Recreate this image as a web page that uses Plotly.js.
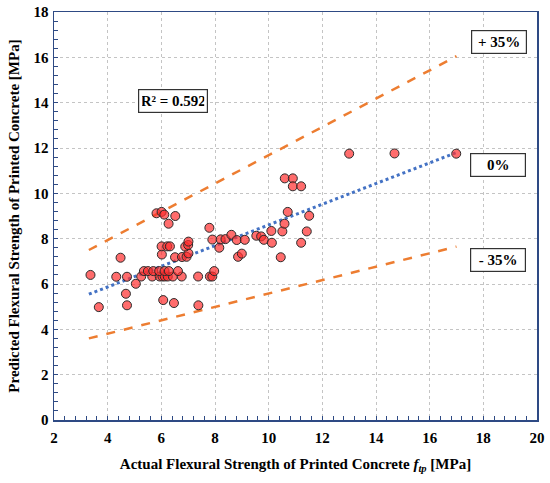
<!DOCTYPE html>
<html><head><meta charset="utf-8">
<script src="https://cdn.plot.ly/plotly-3.0.1.min.js"></script>
<style>html,body{margin:0;padding:0;background:#fff}#chart{width:550px;height:483px}</style>
</head><body><div id="chart"></div>
<script>
// measured points: actual (x) vs predicted (y)
const actual = [3.36,3.67,4.32,4.48,4.72,4.68,4.72,5.05,
 5.25,5.66,5.94,6.04,6.13,6.24,6.43,6.76,7.37,7.81,7.90,
 5.35,5.50,5.70,5.92,6.12,6.28,6.62,7.97,
 6.02,6.01,6.22,6.32,6.51,6.77,6.94,7.01,6.89,7.00,7.01,
 5.82,6.01,6.11,6.52,6.27,7.79,7.90,8.16,8.21,8.39,8.61,8.81,
 8.86,9.00,9.11,9.54,9.72,9.82,10.10,10.12,10.45,10.51,10.59,10.71,
 10.60,10.90,10.90,11.21,11.21,11.42,11.51,13.00,14.69,16.99,
 6.07,6.47,7.38];
const predicted = [6.40,4.98,6.32,7.16,6.32,5.57,5.06,6.01,
 6.33,6.33,6.33,6.33,6.33,6.33,6.33,6.33,6.33,6.33,6.33,
 6.57,6.57,6.57,6.57,6.57,6.57,6.57,6.57,
 7.30,7.66,7.66,7.66,7.18,7.19,7.20,7.35,7.65,7.72,7.87,
 9.12,9.18,9.06,9.00,8.66,8.48,7.96,7.60,7.97,7.98,8.17,7.94,
 7.20,7.34,7.95,8.13,8.10,7.95,8.34,7.82,7.18,8.32,8.66,9.18,
 10.66,10.66,10.31,10.31,7.82,8.32,9.01,11.75,11.76,11.75,
 5.29,5.16,5.06];
// reference lines
const lineX = [3.3, 17.0];
const fitY = [5.55, 11.8];
const upperY = [7.5, 16.05];
const lowerY = [3.6, 7.65];
const xTickVals = [2,4,6,8,10,12,14,16,18,20];
const yTickVals = [0,2,4,6,8,10,12,14,16,18];
const boxLabels = ['R² = 0.592', '+ 35%', '0%', '- 35%'];
const boxX = [6.42, 18.6, 18.55, 18.55];
const boxY = [14.07, 16.67, 11.25, 7.06];

const serif = 'Liberation Serif, Times New Roman, serif';
const axisCol = '#2E4A84';
const traces = [
 {x: lineX, y: upperY, mode:'lines', line:{color:'#ED7D31', width:2.5, dash:'dash'}, hoverinfo:'skip'},
 {x: lineX, y: lowerY, mode:'lines', line:{color:'#ED7D31', width:2.5, dash:'dash'}, hoverinfo:'skip'},
 {x: lineX, y: fitY, mode:'lines', line:{color:'#4472C4', width:3, dash:'dot'}, hoverinfo:'skip'},
 {x: actual, y: predicted, mode:'markers', marker:{size:9, color:'rgba(255,45,45,0.7)', line:{color:'#2b2b2b', width:1}}}
];
const axisBase = {
 showline:true, linecolor:axisCol, linewidth:1.5, mirror:true,
 showgrid:true, gridcolor:'#c4c4c4', griddash:'dot', gridwidth:1,
 zeroline:false, ticks:'inside', ticklen:4, tickcolor:axisCol, tickwidth:1,
 minor:{ticks:'inside', ticklen:4, dtick:0.4, tickcolor:axisCol, showgrid:false},
 tickfont:{family:serif, size:15, color:'#000', weight:'bold'}
};
const layout = {
 width:550, height:483, margin:{l:54, r:13, t:12, b:63},
 paper_bgcolor:'#fff', plot_bgcolor:'#fff', showlegend:false,
 xaxis: Object.assign({}, axisBase, {range:[2,20], tickvals:xTickVals, dtick:2, ticklabelstandoff:3,
   title:{text:'<b>Actual Flexural Strength of Printed Concrete <i>f<sub>tp</sub></i> [MPa]</b>', font:{family:serif, size:15, color:'#000'}, standoff:14}}),
 yaxis: Object.assign({}, axisBase, {range:[0,18], tickvals:yTickVals, dtick:2, ticklabelstandoff:1,
   title:{text:'<b>Predicted Flexural Strength of Printed Concrete [MPa]</b>', font:{family:serif, size:15, color:'#000'}, standoff:10}}),
 annotations: boxLabels.map((t,i)=>({x:boxX[i], y:boxY[i], xref:'x', yref:'y', text:'<b>'+t+'</b>', showarrow:false,
   font:{family:serif, size:15, color:'#000'}, bgcolor:'#fff', bordercolor:'#333', borderwidth:1.2, borderpad:3,
   width: i===0 ? 62 : 48}))
};
Plotly.newPlot('chart', traces, layout, {displayModeBar:false, staticPlot:true});
</script></body></html>
